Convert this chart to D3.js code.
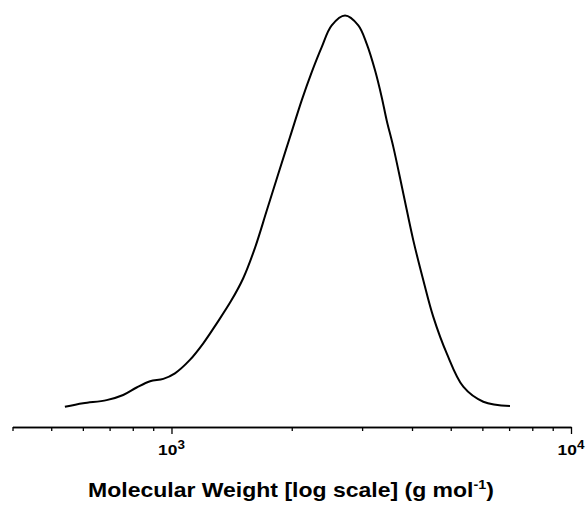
<!DOCTYPE html>
<html><head><meta charset="utf-8">
<script src="https://cdn.jsdelivr.net/npm/d3@7"></script>
<style>body{margin:0;background:#fff}svg{display:block}</style>
</head><body>
<svg id="c" width="587" height="506"></svg>
<script>
const molWeight = [541, 601, 688, 757, 818, 884, 954, 1020, 1112, 1201, 1297, 1409, 1512, 1618, 1731, 1851, 1980, 2118, 2243, 2377, 2518, 2719, 2935, 3081, 3232, 3359, 3457, 3591, 3804, 4030, 4269, 4522, 4886, 5375, 6033, 7035];
const intensity = [0.008, 0.017, 0.025, 0.038, 0.057, 0.073, 0.079, 0.093, 0.127, 0.169, 0.219, 0.276, 0.334, 0.411, 0.505, 0.599, 0.692, 0.785, 0.856, 0.920, 0.975, 1.0, 0.975, 0.928, 0.861, 0.793, 0.734, 0.667, 0.549, 0.430, 0.329, 0.236, 0.1435, 0.059, 0.021, 0.010];
const majorTicks = [1000, 10000];
const majorLabels = ["3", "4"];
const minorTicks = [400, 500, 600, 700, 800, 900, 2000, 3000, 4000, 5000, 6000, 7000, 8000, 9000];
const xTitle = "Molecular Weight [log scale] (g mol";

const svg = d3.select("#c");
const x = d3.scaleLog().domain([400, 10000]).range([12.5, 571]);
const y = d3.scaleLinear().domain([0, 1]).range([410, 15.5]);
const axisY = 427;
const font = "'Liberation Sans', Arial, sans-serif";

const data = molWeight.map((m, i) => ({m, v: intensity[i]}));
svg.append("path").datum(data)
  .attr("fill", "none").attr("stroke", "#000").attr("stroke-width", 2)
  .attr("d", d3.line().x(d => x(d.m)).y(d => y(d.v)).curve(d3.curveCatmullRom.alpha(0.5)));

svg.append("g").attr("transform", `translate(0,${axisY})`)
  .call(d3.axisBottom(x).tickValues(minorTicks).tickSize(4).tickSizeOuter(0).tickFormat(""));
svg.append("g").attr("transform", `translate(0,${axisY})`)
  .call(d3.axisBottom(x).tickValues(majorTicks).tickSize(7).tickSizeOuter(0).tickFormat(""));
svg.selectAll(".domain, .tick line").attr("stroke", "#000").attr("stroke-width", 1.3);

const lblG = svg.append("g").selectAll("g").data(majorTicks).join("g")
  .attr("transform", d => `translate(${x(d)},455) scale(1.12,1)`);
const lbl = lblG.append("text").attr("x", 0).attr("y", 0)
  .attr("text-anchor", "middle")
  .style("font-family", font)
  .style("font-weight", "bold").style("font-size", "15.5px");
lbl.append("tspan").text("10");
lbl.append("tspan").attr("dy", -6).style("font-size", "12px").text((d, i) => majorLabels[i]);

const tG = svg.append("g").attr("transform", "translate(291,496.5) scale(1.15,1)");
const t = tG.append("text").attr("x", 0).attr("y", 0)
  .attr("text-anchor", "middle")
  .style("font-family", font)
  .style("font-weight", "bold").style("font-size", "20px");
t.append("tspan").text(xTitle);
t.append("tspan").attr("dy", -8).style("font-size", "12.5px").text("-1");
t.append("tspan").attr("dy", 8).text(")");
</script>
</body></html>
